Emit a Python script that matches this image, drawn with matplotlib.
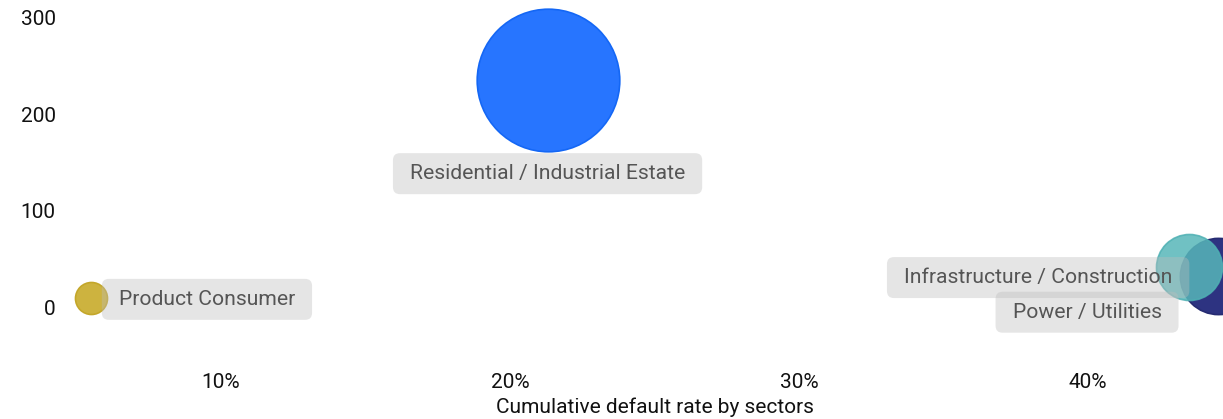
import matplotlib
matplotlib.use("Agg")
import matplotlib.pyplot as plt
from matplotlib.patches import FancyBboxPatch
from matplotlib.transforms import IdentityTransform
from matplotlib.ticker import FuncFormatter

# data
sectors = ["Power / Utilities", "Product Consumer", "Residential / Industrial Estate",
           "Infrastructure / Construction"]
default_rate = [44.5, 5.5, 21.3, 43.5]      # % cumulative default rate
amount = [32, 9, 236, 42]                    # y value
exposure = [68, 12, 238, 51]                 # bubble size
x_ticks = [10, 20, 30, 40]
y_ticks = [0, 100, 200, 300]

colors = {"Power / Utilities": ("#2d3381", "#262b72", 1.0),
          "Product Consumer": ("#cdb33f", "#c4a72a", 1.0),
          "Residential / Industrial Estate": ("#2775ff", "#1467f5", 1.0),
          "Infrastructure / Construction": ("#57b7b9", "#4eb0b3", 0.85)}
# label text centre, offset from bubble centre in pixels
label_off = {"Power / Utilities": (-131, -36),
             "Product Consumer": (116, -1),
             "Residential / Industrial Estate": (0, -94),
             "Infrastructure / Construction": (-151, -11)}

plt.rcParams["font.family"] = ["Roboto", "DejaVu Sans"]

fig = plt.figure(figsize=(12.23, 4.19), dpi=100)
ax = fig.add_axes([76.5 / 1223, 1 - 355.2 / 419, 1156 / 1223, 337.2 / 419])
ax.set_xlim(5, 45)
ax.set_ylim(-50, 300)

for name, x, y, s in zip(sectors, default_rate, amount, exposure):
    fc, ec, a = colors[name]
    ax.scatter(x, y, s=s * 44.3, color=fc, edgecolor=ec, linewidth=1.2,
               alpha=a, zorder=3, clip_on=False)

labels = []
for name, x, y in zip(sectors, default_rate, amount):
    dx, dy = label_off[name]
    t = ax.annotate(name, (x, y), xytext=(dx * 0.72, dy * 0.72), textcoords="offset points",
                    ha="center", va="center", fontsize=15.2, color="#555555", zorder=6,
                    annotation_clip=False)
    labels.append(t)

ax.set_xticks(x_ticks)
ax.set_yticks(y_ticks)
ax.xaxis.set_major_formatter(FuncFormatter(lambda v, p: f"{v:.0f}%"))
ax.tick_params(length=0, labelsize=15, labelcolor="#111111")
ax.tick_params(axis="x", pad=13)
ax.tick_params(axis="y", pad=15)
for sp in ax.spines.values():
    sp.set_visible(False)
ax.set_xlabel("Cumulative default rate by sectors", fontsize=15, color="#111111", labelpad=4)

# grey rounded boxes behind the labels
fig.canvas.draw()
r = fig.canvas.get_renderer()
for t in labels:
    bb = t.get_window_extent(r)
    padx, pady = 17, (41 - bb.height) / 2
    box = FancyBboxPatch((bb.x0 - padx, bb.y0 - pady), bb.width + 2 * padx, bb.height + 2 * pady,
                         boxstyle="round,pad=0,rounding_size=7", transform=IdentityTransform(),
                         fc="#bdbdbd", ec="none", alpha=0.38, zorder=5, clip_on=False)
    ax.add_artist(box)

fig.savefig("out.png", dpi=100)
